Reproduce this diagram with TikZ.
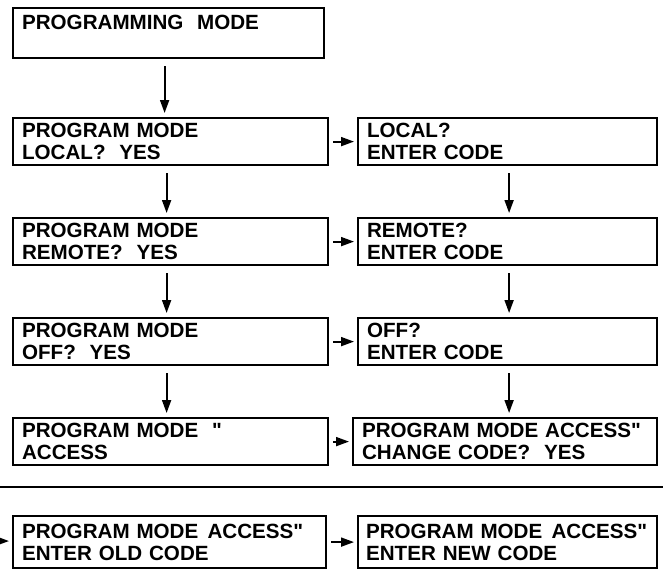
\documentclass[tikz,border=0pt]{standalone}
\usepackage{fontspec}
\setmainfont[Ligatures=TeXOff]{Liberation Sans}
\usetikzlibrary{arrows.meta}

\begin{document}
\begin{tikzpicture}[x=1pt,y=-1pt,>={Triangle[length=13pt,width=9pt]},
  font=\fontsize{20.6}{22}\selectfont\bfseries,
  lcd/.style={draw,line width=2.2pt,anchor=north west,inner xsep=9pt,inner ysep=0pt,
    minimum height=47pt,text width=#1,align=left},
  flow/.style={->,line width=1.8pt,shorten <=7pt,shorten >=4pt},
  hop/.style={->,line width=1.8pt,shorten <=4pt,shorten >=3pt}]
  \useasboundingbox (0,0) rectangle (663,586);

  % top display
  \node[lcd=293pt,minimum height=50pt] (pm) at (12,7) {PROGRAMMING~ MODE\\\mbox{}};

  % left column: mode choice
  \node[lcd=297pt] (local)  at (12,117) {PROGRAM MODE\\LOCAL?~ YES};
  \node[lcd=297pt] (remote) at (12,217) {PROGRAM MODE\\REMOTE?~ YES};
  \node[lcd=297pt] (off)    at (12,317) {PROGRAM MODE\\OFF?~ YES};
  \node[lcd=297pt] (access) at (12,417) {PROGRAM MODE~ "\\ACCESS};

  % right column: code prompts
  \node[lcd=281pt] (localc)  at (357,117) {LOCAL?\\ENTER CODE};
  \node[lcd=281pt] (remotec) at (357,217) {REMOTE?\\ENTER CODE};
  \node[lcd=281pt] (offc)    at (357,317) {OFF?\\ENTER CODE};
  \node[lcd=286pt] (change)  at (352,417) {PROGRAM MODE ACCESS"\\CHANGE CODE?~ YES};

  % separator
  \coordinate (sepl) at (0,487);
  \coordinate (sepr) at (663,487);
  \draw[line width=1.6pt] (sepl) -- (sepr);

  % change code sequence
  \node[lcd=295pt,minimum height=52pt] (oldc) at (12,515) {PROGRAM MODE\hspace{0.45em}ACCESS"\\ENTER OLD CODE};
  \node[lcd=283pt,inner xsep=8pt,minimum height=52pt] (newc) at (357,515)
    {\mbox{PROGRAM MODE\hspace{0.45em}ACCESS"}\\ENTER NEW CODE};
  \coordinate (entry) at (0,541);

  % connectors
  \draw[flow] ([xshift=-4pt]pm.south) -- ([xshift=-4pt]pm.south |- local.north);
  \draw[flow] ([xshift=-4pt]local.south) -- ([xshift=-4pt]local.south |- remote.north);
  \draw[flow] ([xshift=-4pt]remote.south) -- ([xshift=-4pt]remote.south |- off.north);
  \draw[flow] ([xshift=-4pt]off.south) -- ([xshift=-4pt]off.south |- access.north);
  \draw[flow] ([xshift=1.5pt]localc.south) -- ([xshift=1.5pt]localc.south |- remotec.north);
  \draw[flow] ([xshift=1.5pt]remotec.south) -- ([xshift=1.5pt]remotec.south |- offc.north);
  \draw[flow] ([xshift=1.5pt]offc.south) -- ([xshift=1.5pt]offc.south |- change.north);
  \draw[hop] (local) -- (localc);
  \draw[hop] (remote) -- (remotec);
  \draw[hop] (off) -- (offc);
  \draw[hop] (access) -- (change);
  \draw[hop,shorten <=0pt] (entry) -- (oldc);
  \draw[hop] (oldc) -- (newc);
\end{tikzpicture}
\end{document}
